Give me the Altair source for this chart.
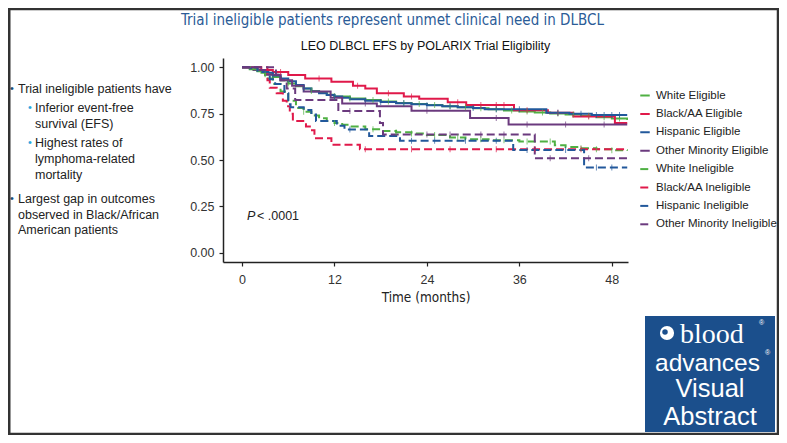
import altair as alt
import pandas as pd

SERIES = ["White Eligible", "Black/AA Eligible", "Hispanic Eligible", "Other Minority Eligible",
          "White Ineligible", "Black/AA Ineligible", "Hispanic Ineligible", "Other Minority Ineligible"]
COLORS = ["#4FB043", "#E0194A", "#22589B", "#6B3A7E", "#4FB043", "#E0194A", "#22589B", "#6B3A7E"]

# Kaplan-Meier step curves (time in months, EFS probability)
T_WE = [0, 1, 2, 3, 4, 5, 6, 7, 8, 9, 10, 11, 12, 14, 16, 18, 20, 22, 24, 26, 28, 30, 32, 34, 36, 38, 40, 42, 44, 46, 48, 50]
S_WE = [1, .99, .978, .963, .948, .93, .913, .898, .885, .872, .862, .852, .843, .832, .823, .815, .808, .802, .796, .79,
        .785, .779, .773, .767, .761, .756, .751, .745, .738, .731, .724, .716]
T_BE = [0, 2.5, 4, 6, 8.2, 11.6, 14.4, 16, 17.5, 21, 23, 26.7, 29.1, 35.3, 39.7, 43, 48.4, 50]
S_BE = [1, .985, .975, .958, .94, .922, .9, .885, .86, .843, .83, .812, .797, .768, .755, .735, .70, .70]
T_HE = [0, 1, 2, 3, 4, 5, 6, 7, 8, 9, 10, 11, 12, 13, 14, 16, 18, 20, 22, 24, 26, 28, 30, 31.5, 39.5, 42.5, 45.4, 50]
S_HE = [1, .995, .985, .97, .955, .94, .925, .905, .885, .87, .86, .85, .842, .835, .828, .82, .813, .806, .80, .795,
        .79, .785, .78, .773, .755, .75, .743, .743]
T_OE = [0, 1.5, 3, 5, 6.5, 8, 11.5, 13, 17.5, 22, 29.6, 34.6, 50]
S_OE = [1, .985, .96, .93, .90, .87, .835, .805, .79, .765, .727, .692, .692]
T_WI = [0, 1, 2, 3, 4, 5, 6, 7, 8, 9, 10, 11, 12, 13, 14, 16, 18, 20, 22, 24, 27, 29, 32, 36, 40.6, 42, 44, 46, 48, 50]
S_WI = [1, .99, .97, .94, .91, .87, .82, .78, .76, .74, .725, .71, .70, .69, .68, .666, .657, .65, .643, .635, .622,
        .612, .606, .60, .58, .57, .563, .558, .553, .55]
T_BI = [0, 3.3, 3.6, 4.5, 5.3, 5.8, 6.2, 6.6, 8.3, 8.8, 9.4, 11.6, 15.3, 50]
S_BI = [1, .93, .89, .86, .82, .79, .75, .71, .68, .66, .617, .582, .558, .558]
T_HI = [0, 2, 3.6, 4.3, 5.5, 6, 6.3, 8, 9, 9.6, 12.3, 13.3, 16.5, 20.5, 35.2, 44.4, 50]
S_HI = [1, .975, .935, .91, .86, .80, .785, .77, .745, .71, .685, .665, .629, .604, .554, .46, .46]
T_OI = [0, 4.4, 5, 5.8, 6.9, 12.5, 17.9, 18.3, 38, 50]
S_OI = [1, .96, .93, .885, .824, .764, .70, .637, .509, .509]

# censoring times (months)
C_WE = [3, 6, 9, 12, 14, 17, 19, 21, 23, 25, 27, 29, 31, 33, 35, 37, 39, 41, 43, 45, 47, 49]
C_BE = [5, 10, 15, 19, 22, 28, 31, 33, 34, 37, 41, 45]
C_HE = [4, 8, 12, 16, 18, 21, 24, 27, 30, 33, 36, 41, 44, 46, 47, 48, 49]
C_OE = [16, 24, 33, 37, 42, 47]
C_WI = [8, 12, 17, 20, 22, 25, 28, 31, 34, 37, 40, 44, 46, 48]
C_BI = [16, 22, 27, 33, 38, 44]
C_HI = [14, 22, 25, 29, 33, 37, 42, 46, 48]
C_OI = [14, 24, 27, 31, 34, 40, 45]

X_TICKS = [0, 12, 24, 36, 48]
Y_TICKS = [0, 0.25, 0.5, 0.75, 1.0]

TIMES = [T_WE, T_BE, T_HE, T_OE, T_WI, T_BI, T_HI, T_OI]
SURVS = [S_WE, S_BE, S_HE, S_OE, S_WI, S_BI, S_HI, S_OI]
CENS = [C_WE, C_BE, C_HE, C_OE, C_WI, C_BI, C_HI, C_OI]

rows = []
for name, ts, ss in zip(SERIES, TIMES, SURVS):
    for t, s in zip(ts, ss):
        rows.append({"series": name, "t": t, "s": s})
curves = pd.DataFrame(rows)

crow = []
for name, ts, ss, cs in zip(SERIES, TIMES, SURVS, CENS):
    for c in cs:
        val = ss[0]
        for t, s in zip(ts, ss):
            if t <= c:
                val = s
        crow.append({"series": name, "t": c, "s": val})
cens = pd.DataFrame(crow)

SANS = "Liberation Sans, Arial, sans-serif"
NARROW = "Liberation Sans Narrow, DejaVu Sans Condensed, Liberation Sans, sans-serif"

color = alt.Color("series:N", scale=alt.Scale(domain=SERIES, range=COLORS), sort=SERIES,
                  legend=alt.Legend(title=None, orient="none", legendX=416, legendY=31.5,
                                    symbolType="stroke", symbolSize=90, symbolStrokeWidth=2,
                                    labelFont=SANS, labelFontSize=11.5, labelColor="#222",
                                    rowPadding=6.4, labelOffset=5, padding=0))
dash = alt.StrokeDash("series:N", scale=alt.Scale(domain=SERIES, range=[[1, 0]] * 4 + [[8, 4]] * 4),
                      sort=SERIES, legend=None)

xenc = alt.X("t:Q", scale=alt.Scale(domain=[-2.47, 50.1], nice=False, zero=False),
             axis=alt.Axis(values=X_TICKS, title="Time (months)", grid=False, labelPadding=7, titlePadding=5))
yenc = alt.Y("s:Q", scale=alt.Scale(domain=[-0.05, 1.05], nice=False, zero=False),
             axis=alt.Axis(values=Y_TICKS, format=".2f", title=None, grid=False))

lines = alt.Chart(curves).mark_line(interpolate="step-after", strokeWidth=2, clip=True).encode(
    x=xenc, y=yenc, color=color, strokeDash=dash, detail="series:N")
ticks = alt.Chart(cens).mark_tick(orient="vertical", size=6, thickness=1, clip=True).encode(
    x="t:Q", y="s:Q", color=alt.Color("series:N", scale=alt.Scale(domain=SERIES, range=COLORS), legend=None))

OX, OY = 223, 58  # page position of plot origin


def txt(s, px, py, size=12.5, col="#222", font=SANS, align="left", style="normal", weight="normal"):
    return alt.Chart(pd.DataFrame({"label": [s]})).mark_text(
        align=align, baseline="middle", fontSize=size, color=col, font=font,
        fontStyle=style, fontWeight=weight).encode(
        text="label:N", x=alt.value(px - OX), y=alt.value(py - OY))


DARKB = "#1F4E79"
LIGHTB = "#2AA7DF"
texts = [
    txt("Trial ineligible patients represent unmet clinical need in DLBCL", 392.5, 20, 15, "#2B5C97", NARROW, "center"),
    txt("LEO DLBCL EFS by POLARIX Trial Eligibility", 425.5, 46, 12.5, "#111", SANS, "center"),
    txt("•", 10, 89, 11, DARKB), txt("Trial ineligible patients have", 18, 89),
    txt("•", 28, 108, 11, LIGHTB), txt("Inferior event-free", 35, 108),
    txt("survival (EFS)", 35, 123.5),
    txt("•", 28, 143, 11, LIGHTB), txt("Highest rates of", 35, 143),
    txt("lymphoma-related", 35, 159),
    txt("mortality", 35, 174.5),
    txt("•", 10, 199, 11, DARKB), txt("Largest gap in outcomes", 18, 199),
    txt("observed in Black/African", 18, 214.5),
    txt("American patients", 18, 230),
    txt("P", 247, 216, 12.5, "#222", SANS, style="italic"),
    txt("< .0001", 257, 216, 12.5, "#222", SANS),
]

one = pd.DataFrame({"a": [0]})
frame = alt.Chart(one).mark_rect(fillOpacity=0, stroke="#333", strokeWidth=2.5).encode(
    x=alt.value(1 + 8 - OX + 0.25), x2=alt.value(770 + 8 - OX), y=alt.value(1 + 8 - OY), y2=alt.value(426 + 8 - OY))
logo_bg = alt.Chart(one).mark_rect(color="#1B4F8C").encode(
    x=alt.value(645 - OX), x2=alt.value(775 - OX), y=alt.value(316 - OY), y2=alt.value(432 - OY))
icon = alt.Chart(one).mark_circle(color="white", opacity=1, size=200).encode(
    x=alt.value(667 - OX), y=alt.value(333 - OY))
icon2 = alt.Chart(one).mark_circle(color="#1B4F8C", opacity=1, size=30).encode(
    x=alt.value(665 - OX), y=alt.value(332 - OY))


def ltxt(s, px, py, size, font, align="left"):
    return alt.Chart(pd.DataFrame({"label": [s]})).mark_text(
        align=align, baseline="alphabetic", fontSize=size, color="white", font=font).encode(
        text="label:N", x=alt.value(px - OX), y=alt.value(py - OY))


logo = [
    logo_bg, icon, icon2,
    ltxt("blood", 680, 343, 28, "Liberation Serif, DejaVu Serif, serif"),
    ltxt("®", 759, 325, 7, SANS),
    ltxt("advances", 655, 371, 24.5, SANS),
    ltxt("®", 765, 355, 7, SANS),
    ltxt("Visual", 710, 397, 25.5, SANS, "center"),
    ltxt("Abstract", 710, 424.5, 25.5, SANS, "center"),
]

chart = alt.layer(lines, ticks, *texts, frame, *logo).properties(
    width=405, height=204,
    autosize=alt.AutoSizeParams(type="none"),
    padding={"left": 215, "top": 50, "right": 151, "bottom": 173},
).configure_view(stroke=None).configure_axis(
    domainColor="#222", domainWidth=1.5, tickColor="#222", tickWidth=1.2, tickSize=4,
    labelFont=SANS, labelFontSize=12.5, labelColor="#333", labelPadding=5,
    titleFont=NARROW, titleFontSize=13.5, titleFontWeight="normal", titleColor="#222", titlePadding=6,
).resolve_scale(color="shared")

chart.save("out.html", embed_options={"renderer": "svg", "actions": False})
